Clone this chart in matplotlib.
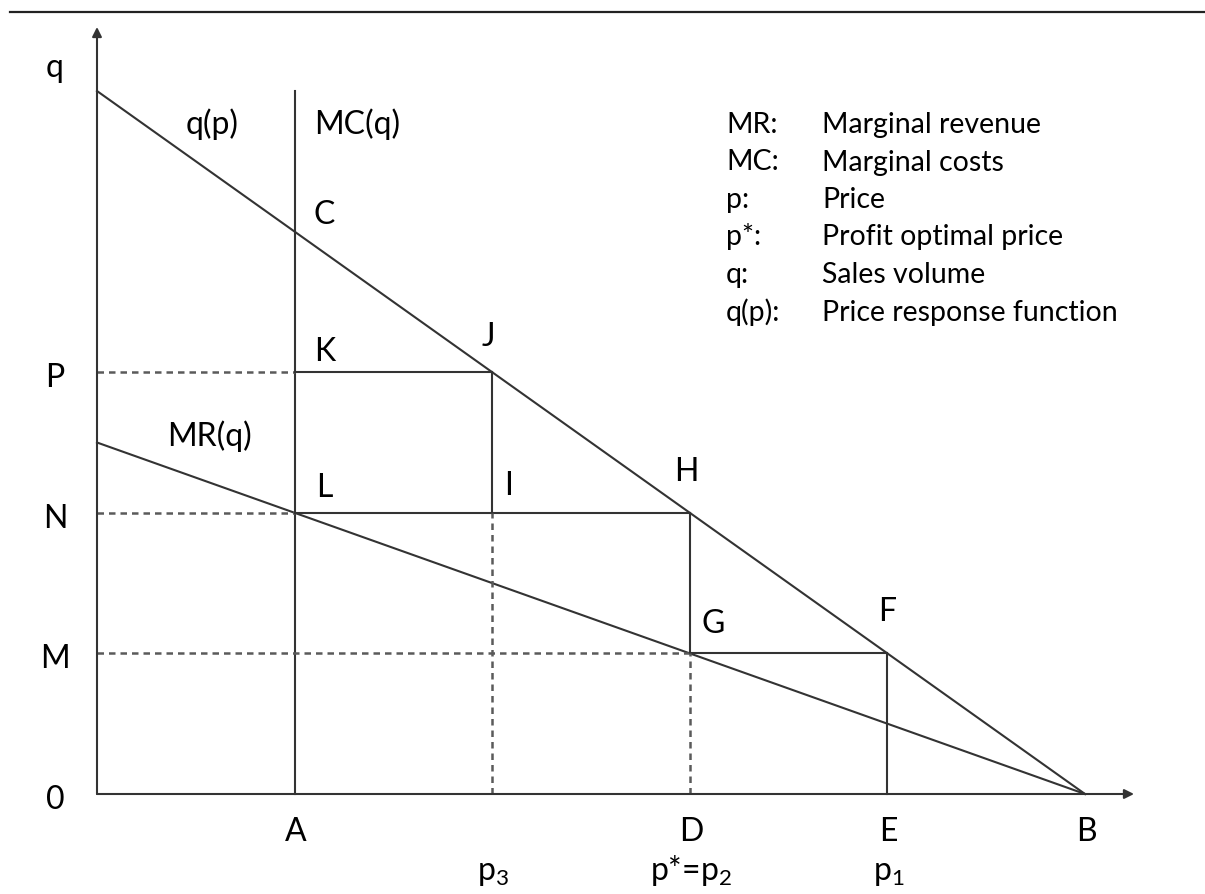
import matplotlib.pyplot as plt

# price axis positions (p) and sales levels (q), in diagram units
p_marks = [2, 4, 6, 8, 10]          # A, p3, D(p*), E, B
p_names = ['A', '', 'D', 'E', 'B']
p_subs = ['', '$\\mathregular{p_3}$', 'p*=$\\mathregular{p_2}$', '$\\mathregular{p_1}$', '']
q_marks = [6, 4, 2, 0]              # P, N, M, 0
q_names = ['P', 'N', 'M', '0']

# price response function and marginal revenue (straight lines)
demand_p = [0, 10]
demand_q = [10, 0]
mr_p = [0, 10]
mr_q = [5, 0]
mc_p = 2
mc_top = 10

legend_keys = ['MR:', 'MC:', 'p:', 'p*:', 'q:', 'q(p):']
legend_vals = ['Marginal revenue', 'Marginal costs', 'Price',
               'Profit optimal price', 'Sales volume', 'Price response function']

plt.rcParams['font.family'] = ['Lato', 'DejaVu Sans']
LC = '#333333'
DC = '#5a5a5a'
LW = 1.5

fig = plt.figure(figsize=(12.05, 8.95), dpi=100)
ax = fig.add_axes([0, 0, 1, 1])
# px -> data: x0=97px, 98.8 px/unit ; y0=795px, 70.3 px/unit
ax.set_xlim(-97 / 98.8, (1205 - 97) / 98.8)
ax.set_ylim(-(895 - 795) / 70.3, 795 / 70.3)
ax.axis('off')

# top rule
ax.plot([-87 / 98.8, 12], [(795 - 13) / 70.3] * 2, color='#222222', lw=1.6, clip_on=False)

# axes with arrows
ax.annotate('', xy=(0, (795 - 28) / 70.3), xytext=(0, 0),
            arrowprops=dict(arrowstyle='-|>', color=LC, lw=LW, mutation_scale=14, shrinkA=0, shrinkB=0))
ax.annotate('', xy=((1134 - 97) / 98.8, 0), xytext=(0, 0),
            arrowprops=dict(arrowstyle='-|>', color=LC, lw=LW, mutation_scale=14, shrinkA=0, shrinkB=0))

def q_of(p):
    return demand_q[0] + (demand_q[1] - demand_q[0]) * p / demand_p[1]

ax.plot(demand_p, demand_q, color=LC, lw=LW)
ax.plot(mr_p, mr_q, color=LC, lw=LW)
ax.plot([mc_p, mc_p], [0, mc_top], color=LC, lw=LW)

dash = dict(color=DC, lw=1.8, dashes=(2.6, 2.0))
pJ, pH, pF = p_marks[1], p_marks[2], p_marks[3]
# P level: dashed to MC, solid to J
ax.plot([0, mc_p], [q_of(pJ)] * 2, **dash)
ax.plot([mc_p, pJ], [q_of(pJ)] * 2, color=LC, lw=LW)
ax.plot([pJ, pJ], [q_of(pJ), q_of(pH)], color=LC, lw=LW)
# N level
ax.plot([0, mc_p], [q_of(pH)] * 2, **dash)
ax.plot([mc_p, pH], [q_of(pH)] * 2, color=LC, lw=LW)
ax.plot([pJ, pJ], [0, q_of(pH)], **dash)
ax.plot([pH, pH], [q_of(pH), q_of(pF)], color=LC, lw=LW)
# M level
ax.plot([0, pH], [q_of(pF)] * 2, **dash)
ax.plot([pH, pF], [q_of(pF)] * 2, color=LC, lw=LW)
ax.plot([pH, pH], [0, q_of(pF)], **dash)
ax.plot([pF, pF], [0, q_of(pF)], color=LC, lw=LW)

FS = 23
def px_text(x, y, s, ha='left', fs=FS):
    ax.text((x - 97) / 98.8, (795 - y) / 70.3, s, ha=ha, va='baseline',
            fontsize=fs, color='black')

# axis labels
px_text(55, 77, 'q', ha='center')
for qv, name in zip(q_marks, q_names):
    px_text(55, 795 - qv * 70.3 + 14, name, ha='center')
for pv, name, sub in zip(p_marks, p_names, p_subs):
    x = 97 + pv * 98.8
    if name:
        px_text(x + 1, 841, name, ha='center')
    if sub:
        px_text(x + 1, 880, sub, ha='center')

# curve labels and points
px_text(212, 134, 'q(p)', ha='center')
px_text(314, 134, 'MC(q)')
px_text(210, 446, 'MR(q)', ha='center')
for s, x, y in [('C', 314, 224), ('K', 314, 361), ('J', 488, 346), ('L', 316, 497),
                ('I', 509, 495), ('H', 686, 481), ('G', 702, 633), ('F', 887, 621)]:
    px_text(x, y, s, ha='center' if s in 'JIHF' else 'left')

# glossary
for i, (k, v) in enumerate(zip(legend_keys, legend_vals)):
    y = 133 + i * 37.5
    px_text(726, y, k, fs=20.5)
    px_text(822, y, v, fs=20.5)

fig.savefig('out.png', dpi=100)
